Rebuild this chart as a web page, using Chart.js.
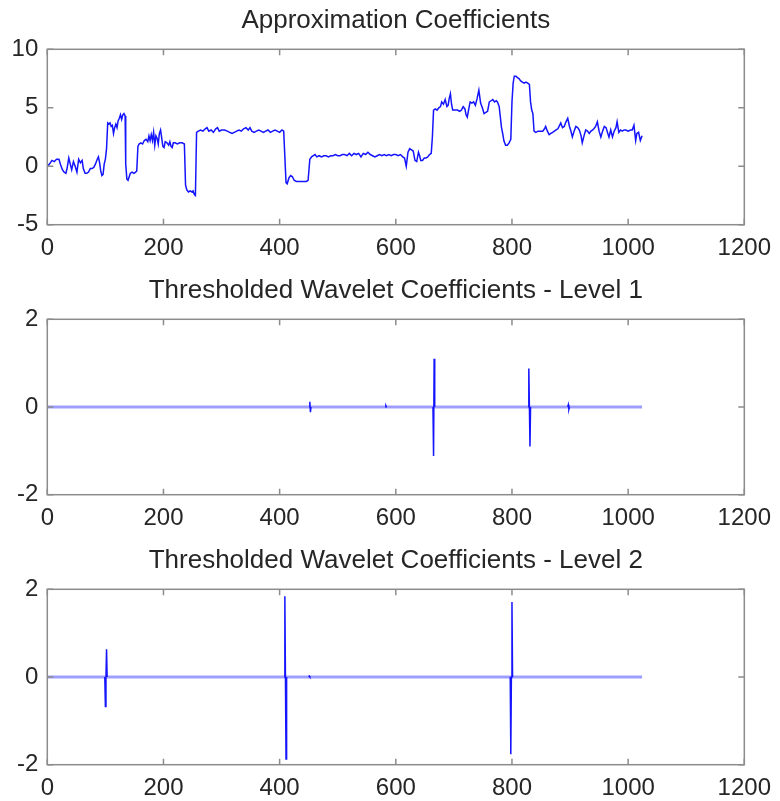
<!DOCTYPE html>
<html>
<head>
<meta charset="utf-8">
<title>Wavelet coefficients</title>
<script src="https://cdn.jsdelivr.net/npm/chart.js@4.4.1/dist/chart.umd.min.js"></script>
<style>
  html, body { margin: 0; padding: 0; background: #fff; overflow: hidden; }
  canvas { position: absolute; left: 0; }
</style>
</head>
<body>
<canvas id="approxChart" width="780" height="270" style="top:0px"></canvas>
<canvas id="level1Chart" width="780" height="270" style="top:270px"></canvas>
<canvas id="level2Chart" width="780" height="270" style="top:540px"></canvas>

<script>
// --- DATA ---
const chartTitles = [
  "Approximation Coefficients",
  "Thresholded Wavelet Coefficients - Level 1",
  "Thresholded Wavelet Coefficients - Level 2",
];

const xTickValues = [0, 200, 400, 600, 800, 1000, 1200];
const approxYTicks = [-5, 0, 5, 10];
const detailYTicks = [-2, 0, 2];
const signalLength = 1024;

// approximation coefficients (sample index / value)
const approxX = [
  0, 4, 8, 12, 16, 20, 23, 26, 29, 32,
  34, 37, 40, 42, 45, 48, 51, 54, 57, 60,
  62, 65, 68, 71, 74, 77, 80, 83, 86, 88,
  90, 92, 94, 96, 98, 100, 102, 104, 106, 108,
  110, 112, 114, 116, 118, 120, 122, 124, 126, 128,
  130, 132, 134, 135, 137, 139, 141, 143, 146, 149,
  152, 154, 156, 158, 161, 164, 167, 170, 173, 175,
  177, 179, 181, 183, 185, 187, 189, 191, 193, 195,
  197, 199, 201, 203, 206, 209, 211, 213, 215, 217,
  220, 224, 228, 232, 236, 238, 240, 243, 246, 249,
  251, 253, 255, 257, 260, 264, 268, 272, 275, 278,
  282, 286, 290, 293, 296, 300, 305, 310, 314, 318,
  322, 326, 330, 334, 338, 342, 346, 349, 352, 356,
  360, 364, 368, 372, 376, 380, 384, 388, 392, 396,
  400, 404, 407, 409, 411, 413, 416, 419, 422, 425,
  429, 434, 440, 446, 449, 452, 455, 458, 461, 464,
  468, 472, 476, 480, 484, 488, 492, 496, 500, 504,
  508, 512, 516, 520, 524, 528, 532, 536, 540, 544,
  548, 552, 556, 560, 564, 568, 572, 576, 580, 584,
  588, 592, 596, 600, 604, 608, 612, 615, 618, 621,
  624, 627, 630, 633, 636, 639, 641, 643, 646, 649,
  652, 655, 658, 661, 663, 665, 668, 671, 674, 677,
  679, 682, 685, 688, 690, 692, 694, 696, 698, 702,
  706, 710, 713, 716, 719, 721, 723, 726, 728, 731,
  734, 737, 740, 743, 746, 749, 752, 755, 758, 761,
  764, 767, 770, 773, 775, 778, 780, 782, 784, 786,
  789, 792, 795, 798, 800, 802, 804, 807, 809, 812,
  815, 818, 821, 824, 827, 830, 832, 834, 836, 838,
  841, 845, 849, 853, 856, 858, 861, 864, 867, 870,
  873, 876, 879, 882, 884, 887, 890, 893, 896, 899,
  901, 904, 907, 910, 913, 916, 919, 921, 924, 927,
  930, 933, 936, 939, 941, 944, 947, 950, 953, 956,
  959, 962, 965, 967, 970, 973, 976, 979, 981, 984,
  987, 990, 993, 996, 1000, 1004, 1007, 1010, 1013, 1015,
  1018, 1021, 1024,
];
const approxY = [
  0.0, 0.2, 0.5, 0.4, 0.6, 0.6, 0.1, -0.3, -0.5, -0.6,
  -0.2, 0.7, 0.1, -0.3, 0.4, 0.0, -0.5, 0.6, 0.3, 0.5,
  -0.2, -0.6, -0.6, -0.5, -0.2, -0.2, -0.1, 0.2, 0.6, 0.8,
  0.3, -0.4, -0.8, -0.7, 0.2, 0.6, 1.5, 3.7, 3.6, 3.7,
  3.4, 3.5, 2.8, 3.3, 3.6, 3.3, 3.9, 4.1, 4.4, 4.0,
  4.4, 4.5, 4.3, 0.2, -1.1, -1.2, -0.9, -0.6, -0.5, -0.6,
  -0.5, -0.4, 1.7, 1.9, 2.0, 1.9, 2.2, 2.3, 2.1, 2.6,
  2.2, 2.7, 2.2, 2.9, 1.8, 2.6, 2.4, 1.9, 2.8, 3.1,
  2.4, 1.7, 1.6, 2.1, 2.0, 1.8, 2.1, 1.7, 1.6, 2.0,
  2.0, 1.9, 2.0, 2.0, 1.9, -1.6, -2.0, -2.2, -2.1, -2.2,
  -2.1, -2.4, -2.5, 2.9, 3.0, 3.1, 3.0, 3.2, 3.3, 3.0,
  3.1, 2.9, 3.2, 3.3, 3.0, 3.1, 3.1, 3.0, 2.9, 2.8,
  2.9, 3.0, 3.1, 3.0, 3.2, 3.3, 3.1, 3.3, 3.0, 2.9,
  3.0, 3.1, 3.0, 2.9, 3.0, 3.1, 2.9, 3.0, 3.1, 3.0,
  2.9, 3.1, 3.0, 0.8, -1.4, -1.5, -1.0, -0.8, -0.9, -1.2,
  -1.3, -1.3, -1.3, -1.3, -1.2, 0.6, 0.8, 0.9, 1.0, 0.8,
  0.9, 0.8, 0.9, 0.9, 0.8, 0.9, 0.9, 1.0, 0.9, 0.9,
  1.0, 1.0, 0.9, 1.1, 0.9, 1.1, 1.0, 1.1, 0.8, 1.1,
  1.0, 1.2, 1.0, 0.9, 0.8, 0.9, 1.0, 0.9, 1.0, 0.9,
  1.0, 0.9, 1.0, 1.0, 0.9, 1.0, 0.8, 0.7, 0.0, 1.2,
  1.5, 1.4, 1.3, 0.5, 0.4, 1.2, 0.9, 0.5, 0.5, 0.7,
  0.7, 0.8, 1.0, 1.1, 2.5, 4.8, 4.9, 4.8, 5.0, 5.1,
  5.5, 5.3, 5.7, 5.1, 5.2, 5.8, 6.2, 5.3, 4.8, 4.8,
  4.8, 4.7, 4.8, 5.1, 4.9, 4.4, 4.2, 5.0, 5.5, 5.4,
  5.5, 5.2, 5.8, 6.5, 5.4, 5.0, 4.5, 4.6, 4.7, 5.5,
  5.6, 5.7, 5.5, 5.6, 5.5, 5.1, 4.2, 3.3, 2.8, 2.2,
  1.8, 1.8, 2.0, 2.3, 5.5, 7.1, 7.7, 7.7, 7.6, 7.5,
  7.3, 7.2, 7.1, 7.2, 7.1, 7.0, 5.5, 4.8, 4.5, 3.0,
  2.9, 3.0, 3.0, 3.0, 3.2, 3.4, 3.0, 2.7, 2.8, 2.9,
  3.0, 3.1, 3.2, 3.5, 3.7, 3.3, 3.4, 3.8, 4.1, 3.4,
  3.1, 2.5, 3.0, 3.4, 3.3, 3.1, 2.6, 2.0, 2.6, 3.1,
  3.0, 2.8, 3.0, 3.1, 3.2, 3.4, 3.8, 3.0, 2.5, 3.0,
  3.4, 3.3, 2.8, 2.5, 3.1, 2.5, 3.0, 3.3, 3.8, 2.9,
  3.1, 3.0, 3.1, 3.1, 3.0, 3.1, 3.1, 3.5, 2.2, 2.8,
  2.9, 2.2, 2.6,
];

// non-zero thresholded detail coefficients (everything else is 0)
const level1Pos = [452, 453, 583, 665, 666, 829, 831, 897, 898];
const level1Val = [0.12, -0.12, 0.03, -1.12, 1.1, 0.88, -0.9, 0.05, -0.05];
const level2Pos = [100, 102, 409, 411, 451, 798, 800];
const level2Val = [-0.67, 0.63, 1.84, -1.87, 0.02, -1.76, 1.71];

// --- HELPERS ---
Chart.defaults.font.family = '"Liberation Sans", Arial, sans-serif';
Chart.defaults.color = "#262626";

const BLUE = "#1414ff";
const AXIS_GRAY = "#8c8c8c";

// matlab-like box with inward ticks on all four sides
const boxPlugin = {
  id: "matlabBox",
  afterDatasetsDraw(chart) {
    const { ctx, chartArea: a, scales } = chart;
    const len = 6;
    ctx.save();
    ctx.strokeStyle = AXIS_GRAY;
    ctx.lineWidth = 1.5;
    ctx.beginPath();
    scales.x.ticks.forEach((t) => {
      const px = scales.x.getPixelForValue(t.value);
      ctx.moveTo(px, a.bottom);
      ctx.lineTo(px, a.bottom - len);
      ctx.moveTo(px, a.top);
      ctx.lineTo(px, a.top + len);
    });
    scales.y.ticks.forEach((t) => {
      const py = scales.y.getPixelForValue(t.value);
      ctx.moveTo(a.left, py);
      ctx.lineTo(a.left + len, py);
      ctx.moveTo(a.right, py);
      ctx.lineTo(a.right - len, py);
    });
    ctx.stroke();
    ctx.strokeRect(a.left, a.top, a.right - a.left, a.bottom - a.top);
    ctx.restore();
  },
};

function spikePoints(pos, val) {
  const nz = new Map(pos.map((p, i) => [p, val[i]]));
  const pts = [];
  for (let x = 1; x <= signalLength; x++) {
    if (nz.has(x)) pts.push({ x, y: nz.get(x) });
    else if (nz.has(x - 1) || nz.has(x + 1)) pts.push({ x, y: 0 });
    else pts.push({ x, y: null });
  }
  return pts;
}

function baseOptions(title, yTicks) {
  return {
    responsive: false,
    animation: false,
    devicePixelRatio: 1,
    layout: { padding: { top: 0, right: 34.7, bottom: 0, left: 0 } },
    plugins: {
      legend: { display: false },
      tooltip: { enabled: false },
      title: {
        display: true,
        text: title,
        fullSize: false,
        color: "#262626",
        font: { size: 26, weight: "normal" },
        padding: { top: 5, bottom: 13.1 },
      },
    },
    scales: {
      x: {
        type: "linear",
        min: xTickValues[0],
        max: xTickValues[xTickValues.length - 1],
        afterBuildTicks: (s) => { s.ticks = xTickValues.map((v) => ({ value: v })); },
        afterFit: (s) => { s.height = 45.3; },
        grid: { display: false, drawTicks: false },
        border: { display: false },
        ticks: { font: { size: 24 }, padding: 9, maxRotation: 0, autoSkip: false, callback: (v) => String(v) },
      },
      y: {
        type: "linear",
        min: yTicks[0],
        max: yTicks[yTicks.length - 1],
        afterBuildTicks: (s) => { s.ticks = yTicks.map((v) => ({ value: v })); },
        afterFit: (s) => { s.width = 47.3; },
        grid: { display: false, drawTicks: false },
        border: { display: false },
        ticks: { font: { size: 24 }, padding: 9, callback: (v) => String(v) },
      },
    },
  };
}

// --- CHARTS ---
function initApproxChart() {
  new Chart(document.getElementById("approxChart"), {
    type: "line",
    data: {
      datasets: [{
        data: approxX.map((x, i) => ({ x, y: approxY[i] })),
        borderColor: BLUE,
        borderWidth: 1.5,
        pointRadius: 0,
        tension: 0,
      }],
    },
    options: baseOptions(chartTitles[0], approxYTicks),
    plugins: [boxPlugin],
  });
}

function initDetailChart(id, title, pos, val) {
  new Chart(document.getElementById(id), {
    type: "line",
    data: {
      datasets: [
        {
          data: spikePoints(pos, val),
          borderColor: BLUE,
          borderWidth: 1.5,
          pointRadius: 0,
          spanGaps: false,
        },
        {
          data: [{ x: 1, y: 0 }, { x: signalLength, y: 0 }],
          borderColor: "rgba(40,40,255,0.45)",
          borderWidth: 3,
          pointRadius: 0,
        },
      ],
    },
    options: baseOptions(title, detailYTicks),
    plugins: [boxPlugin],
  });
}

document.addEventListener("DOMContentLoaded", () => {
  initApproxChart();
  initDetailChart("level1Chart", chartTitles[1], level1Pos, level1Val);
  initDetailChart("level2Chart", chartTitles[2], level2Pos, level2Val);
});
</script>
</body>
</html>
